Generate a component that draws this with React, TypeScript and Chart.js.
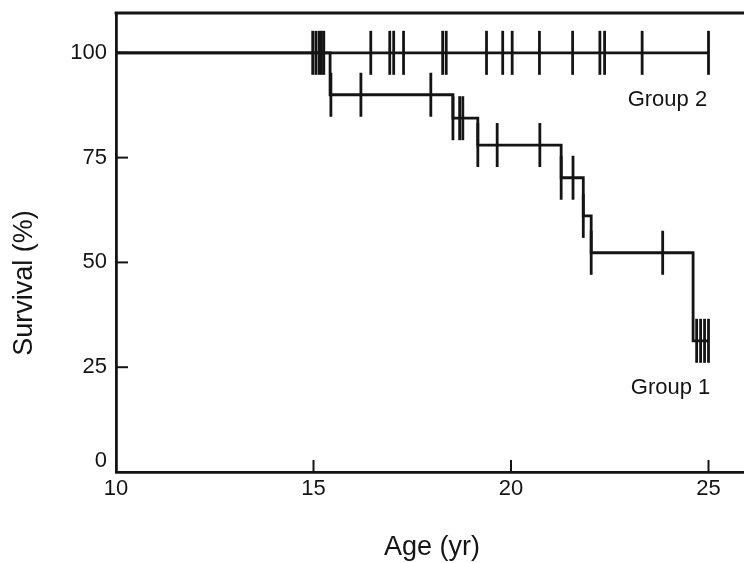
import React, { useEffect, useRef } from "react";
import { Chart, registerables } from "chart.js";

Chart.register(...registerables);

// ---- data ----
const xTickValues = [10, 15, 20, 25];
const yTickValues = [0, 25, 50, 75, 100];

// Group 1 Kaplan-Meier steps (time in years, survival %)
const group1Times = [10, 15.42, 18.53, 19.16, 21.27, 21.83, 22.03, 24.61, 25.0];
const group1Survival = [100, 90, 84.4, 78.0, 70.2, 61.1, 52.3, 31.3, 31.3];

// Group 1 censor marks
const group1CensorTimes = [15.44, 16.2, 17.97, 18.53, 18.7, 18.78, 19.16, 19.65, 20.73, 21.27, 21.57, 21.83, 22.03, 23.84, 24.7, 24.8, 24.9, 25.0];
const group1CensorSurvival = [90, 90, 90, 84.4, 84.4, 84.4, 78.0, 78.0, 78.0, 70.2, 70.2, 61.1, 52.3, 52.3, 31.3, 31.3, 31.3, 31.3];

// Group 2 (no events)
const group2Times = [10, 25.0];
const group2Survival = [100, 100];

// Group 2 censor marks
const group2CensorTimes = [14.98, 15.06, 15.14, 15.2, 15.26, 16.45, 16.93, 17.03, 17.28, 18.27, 18.36, 19.38, 19.79, 20.03, 20.72, 21.56, 22.25, 22.37, 23.32, 25.0];
const group2CensorSurvival = [100, 100, 100, 100, 100, 100, 100, 100, 100, 100, 100, 100, 100, 100, 100, 100, 100, 100, 100, 100];

const seriesLabels = ["Group 1", "Group 2"];

const FONT = '"Liberation Sans", Arial, Helvetica, sans-serif';
const INK = "#141414";

const toPoints = (xs: number[], ys: number[]) => xs.map((x, i) => ({ x, y: ys[i] }));

const zeroPadding = (s: any) => {
  s.paddingTop = 0;
  s.paddingBottom = 0;
  s.paddingLeft = 0;
  s.paddingRight = 0;
};

export default function App() {
  const ref = useRef<HTMLCanvasElement | null>(null);

  useEffect(() => {
    const canvas = ref.current;
    if (!canvas) return;

    const overlay = {
      id: "overlay",
      afterDraw(chart: any) {
        const { ctx, chartArea: a, scales } = chart;
        const xs = scales.x;
        const ys = scales.y;
        ctx.save();
        ctx.strokeStyle = INK;
        ctx.lineWidth = 2.8;
        // top frame line
        ctx.beginPath();
        ctx.moveTo(a.left - 1.4, a.top);
        ctx.lineTo(a.right + 2, a.top);
        ctx.stroke();
        // inward tick marks
        ctx.lineWidth = 2;
        xTickValues.slice(1).forEach((v) => {
          const px = xs.getPixelForValue(v);
          ctx.beginPath();
          ctx.moveTo(px, a.bottom);
          ctx.lineTo(px, a.bottom - 12);
          ctx.stroke();
        });
        yTickValues.slice(1).forEach((v) => {
          const py = ys.getPixelForValue(v);
          ctx.beginPath();
          ctx.moveTo(a.left, py);
          ctx.lineTo(a.left + 12, py);
          ctx.stroke();
        });
        // group labels
        ctx.fillStyle = INK;
        ctx.font = `22px ${FONT}`;
        ctx.textAlign = "center";
        ctx.textBaseline = "middle";
        ctx.fillText(seriesLabels[1], xs.getPixelForValue(23.96), ys.getPixelForValue(88.8));
        ctx.fillText(seriesLabels[0], xs.getPixelForValue(24.04), ys.getPixelForValue(20.0));
        // y axis title
        ctx.translate(25, 283);
        ctx.rotate(-Math.PI / 2);
        ctx.font = `27px ${FONT}`;
        ctx.fillText("Survival (%)", 0, 0);
        ctx.restore();
      },
    };

    const censorStyle = {
      showLine: false,
      pointStyle: "line",
      pointRotation: 90,
      pointRadius: 22,
      pointBorderWidth: 2.8,
      pointBorderColor: INK,
      pointBackgroundColor: INK,
    };

    const chart = new Chart(canvas, {
      type: "scatter",
      data: {
        datasets: [
          {
            label: seriesLabels[1],
            data: toPoints(group2Times, group2Survival),
            showLine: true,
            borderColor: INK,
            borderWidth: 2.8,
            pointRadius: 0,
          },
          {
            label: seriesLabels[0],
            data: toPoints(group1Times, group1Survival),
            showLine: true,
            stepped: "before",
            borderColor: INK,
            borderWidth: 2.8,
            pointRadius: 0,
          },
          {
            label: seriesLabels[1] + " censored",
            data: toPoints(group2CensorTimes, group2CensorSurvival),
            ...censorStyle,
          },
          {
            label: seriesLabels[0] + " censored",
            data: toPoints(group1CensorTimes, group1CensorSurvival),
            ...censorStyle,
          },
        ] as any,
      },
      options: {
        responsive: false,
        animation: false,
        events: [],
        layout: { autoPadding: false, padding: { left: 0, right: 12, top: 13, bottom: 0 } },
        plugins: {
          legend: { display: false },
          tooltip: { enabled: false },
        },
        scales: {
          x: {
            type: "linear",
            min: 10,
            max: 26,
            afterBuildTicks: (s: any) => {
              s.ticks = xTickValues.map((v) => ({ value: v }));
            },
            afterFit: (s: any) => {
              s.height = 91;
              zeroPadding(s);
            },
            grid: { display: false, drawTicks: false },
            border: { display: true, color: INK, width: 2.8 },
            ticks: {
              color: INK,
              font: { family: FONT, size: 22 },
              padding: 4,
              maxRotation: 0,
              autoSkip: false,
            },
            title: {
              display: true,
              text: "Age (yr)",
              color: INK,
              font: { family: FONT, size: 27, lineHeight: 1.0 },
              padding: { top: 0, bottom: 2 },
            },
          },
          y: {
            type: "linear",
            min: 0,
            max: 109.5,
            afterBuildTicks: (s: any) => {
              s.ticks = yTickValues.map((v) => ({ value: v }));
            },
            afterFit: (s: any) => {
              s.width = 116;
              zeroPadding(s);
            },
            grid: { display: false, drawTicks: false },
            border: { display: true, color: INK, width: 2.8 },
            ticks: {
              color: INK,
              font: { family: FONT, size: 22, lineHeight: 1.0 },
              padding: 9,
              autoSkip: false,
              callback: (v: any) => (Number(v) === 0 ? ["0", ""] : String(v)),
            },
            title: { display: false },
          },
        },
      } as any,
      plugins: [overlay],
    });

    return () => chart.destroy();
  }, []);

  return (
    <div
      style={{
        position: "fixed",
        left: 0,
        top: 0,
        width: 744,
        height: 563,
        overflow: "hidden",
        background: "#ffffff",
      }}
    >
      <canvas ref={ref} width={760} height={563} style={{ display: "block", width: 760, height: 563 }} />
    </div>
  );
}
